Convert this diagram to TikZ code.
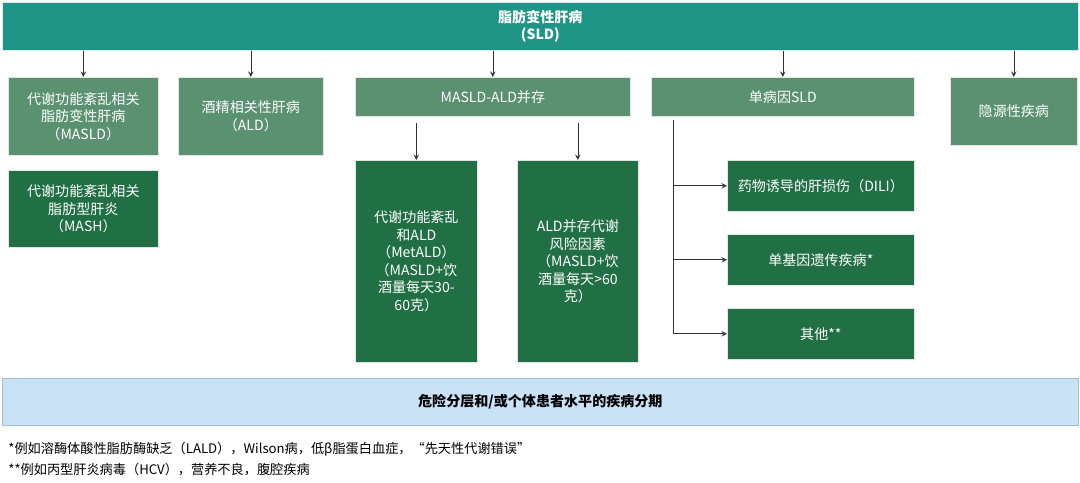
\documentclass[tikz,border=0pt]{standalone}
\usepackage{fontspec}
\setmainfont{Noto Sans CJK SC}
\usetikzlibrary{positioning}

\definecolor{teal1}{HTML}{1E9585}
\definecolor{midgreen}{HTML}{5A9170}
\definecolor{darkgreen}{HTML}{217045}
\definecolor{bandblue}{HTML}{C9E2F6}
\definecolor{bandedge}{HTML}{9CC0D8}

\tikzset{
  box/.style={draw=white!80!gray, text=white, align=center, inner sep=1pt,
    font=\fontsize{8}{10}\selectfont, anchor=north west},
  midbox/.style={box, fill=midgreen},
  darkbox/.style={box, fill=darkgreen},
  arr/.style={->, >=stealth, thin, black!80},
}

\begin{document}
\begin{tikzpicture}[x=0.02cm, y=-0.02cm]
    \useasboundingbox (0,0) rectangle (1080,483);

    % top band
    \node (sld) [box, fill=teal1, minimum width=1076*0.02cm, minimum height=48*0.02cm,
      font=\bfseries\fontsize{8}{10}\selectfont] at (2,2) {脂肪变性肝病\\(SLD)};

    % first row
    \node (masld) [midbox, minimum width=150*0.02cm, minimum height=78*0.02cm] at (8,77)
      {代谢功能紊乱相关\\脂肪变性肝病\\（MASLD）};
    \node (ald) [midbox, minimum width=145*0.02cm, minimum height=78*0.02cm] at (178,77)
      {酒精相关性肝病\\（ALD）};
    \node (both) [midbox, minimum width=275*0.02cm, minimum height=39*0.02cm] at (355,77)
      {MASLD-ALD并存};
    \node (single) [midbox, minimum width=263*0.02cm, minimum height=39*0.02cm] at (651,77)
      {单病因SLD};
    \node (crypto) [midbox, minimum width=127*0.02cm, minimum height=68*0.02cm] at (950,77)
      {隐源性疾病};

    % second row
    \node (mash) [darkbox, minimum width=150*0.02cm, minimum height=77*0.02cm] at (8,170)
      {代谢功能紊乱相关\\脂肪型肝炎\\（MASH）};
    \node (metald) [darkbox, minimum width=122*0.02cm, minimum height=202*0.02cm] at (355,160)
      {代谢功能紊乱\\和ALD\\（MetALD）\\（MASLD+饮\\酒量每天30-\\60克）};
    \node (aldrisk) [darkbox, minimum width=121*0.02cm, minimum height=202*0.02cm] at (517,160)
      {ALD并存代谢\\风险因素\\（MASLD+饮\\酒量每天>60\\克）};
    \node (dili) [darkbox, minimum width=187*0.02cm, minimum height=51*0.02cm] at (727,160)
      {药物诱导的肝损伤（DILI）};
    \node (mono) [darkbox, minimum width=187*0.02cm, minimum height=51*0.02cm] at (727,234)
      {单基因遗传疾病*};
    \node (other) [darkbox, minimum width=187*0.02cm, minimum height=51*0.02cm] at (727,308)
      {其他**};

    % bottom band
    \node (stage) [box, fill=bandblue, draw=bandedge, text=black, minimum width=1076*0.02cm,
      minimum height=47*0.02cm, font=\bfseries\fontsize{8}{10}\selectfont] at (2,378)
      {危险分层和/或个体患者水平的疾病分期};

    % footnotes
    \node (note1) [anchor=west, inner sep=0pt, font=\fontsize{7.5}{9}\selectfont] at (8,449)
      {*例如溶酶体酸性脂肪酶缺乏（LALD），Wilson病，低β脂蛋白血症，“先天性代谢错误”};
    \node (note2) [anchor=west, inner sep=0pt, font=\fontsize{7.5}{9}\selectfont] at (8,470)
      {**例如丙型肝炎病毒（HCV），营养不良，腹腔疾病};

    % arrows
    \foreach \n in {masld, ald, both, single, crypto}
      \draw[arr] (sld.south -| \n.north) -- (\n.north);
    \draw[arr] (metald.north) ++(0,-37) -- (metald.north);
    \draw[arr] (aldrisk.north) ++(0,-37) -- (aldrisk.north);
    \coordinate (trunk) at (673,120);
    \draw[thin, black!80] (trunk) -- (trunk |- other.west);
    \foreach \n in {dili, mono, other}
      \draw[arr] (trunk |- \n.west) -- (\n.west);
\end{tikzpicture}
\end{document}
